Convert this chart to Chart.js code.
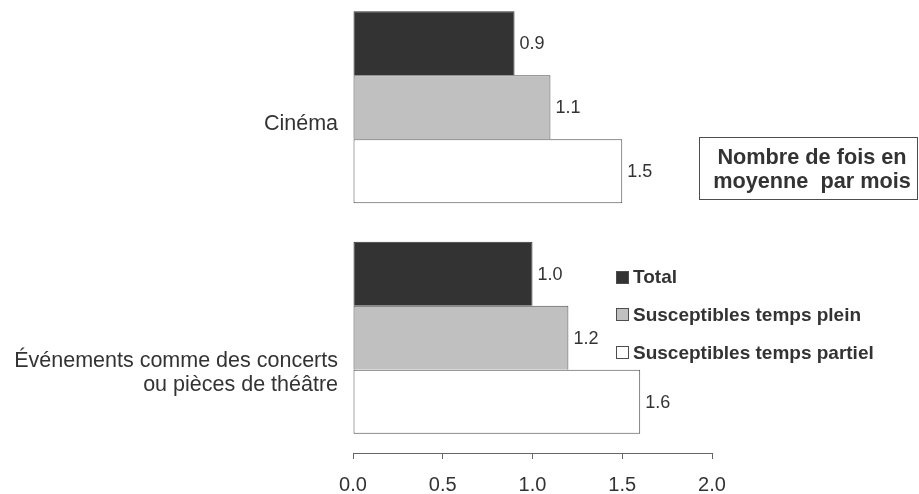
<!DOCTYPE html>
<html>
<head>
<meta charset="utf-8">
<script src="https://cdn.jsdelivr.net/npm/chart.js@4.4.1/dist/chart.umd.min.js"></script>
<style>
  html, body { margin: 0; padding: 0; background: #fff; overflow: hidden; }
  body { width: 919px; height: 494px; position: relative; }
  #chart { position: absolute; left: 0; top: -8px; }
</style>
</head>
<body>
<canvas id="chart" width="919" height="524"></canvas>
<script>
// categories, one entry per line of the label
const categories = [
    ['Cinéma'],
    ['Événements comme des concerts', 'ou pièces de théâtre']
];
const seriesNames = ['Total', 'Susceptibles temps plein', 'Susceptibles temps partiel'];
const totalValues = [0.9, 1.0];
const pleinValues = [1.1, 1.2];
const partielValues = [1.5, 1.6];
const xTicks = [0, 0.5, 1.0, 1.5, 2.0];
const noteLines = ['Nombre de fois en', 'moyenne  par mois'];

const FONT = "'Liberation Sans', Arial, sans-serif";
const TEXT = '#333333';
const EDGE = '#4d4d4d';
const fills = ['#333333', '#c0c0c0', '#ffffff'];
const TOP = 8; // canvas sits 8px above the page

// Labels for the categories, a little below the centre of each group
const labelShift = [17, 35];
const categoryLabels = {
    id: 'categoryLabels',
    afterDraw(chart) {
        const ctx = chart.ctx;
        const y = chart.scales.y;
        ctx.save();
        ctx.font = '21.5px ' + FONT;
        ctx.fillStyle = TEXT;
        ctx.textAlign = 'right';
        ctx.textBaseline = 'middle';
        categories.forEach((lines, i) => {
            const mid = y.getPixelForValue(i) + labelShift[i];
            const start = mid - (lines.length - 1) * 12;
            lines.forEach((line, j) => ctx.fillText(line, chart.chartArea.left - 15, start + j * 24));
        });
        ctx.restore();
    }
};

// Value next to the end of each bar
const valueLabels = {
    id: 'valueLabels',
    afterDatasetsDraw(chart) {
        const ctx = chart.ctx;
        ctx.save();
        ctx.font = '18px ' + FONT;
        ctx.fillStyle = TEXT;
        ctx.textAlign = 'left';
        ctx.textBaseline = 'middle';
        chart.data.datasets.forEach((ds, di) => {
            chart.getDatasetMeta(di).data.forEach((bar, i) => {
                ctx.fillText(ds.data[i].toFixed(1), bar.x + 5, bar.y + 1);
            });
        });
        ctx.restore();
    }
};

// Legend and the boxed note on the right
const sideNotes = {
    id: 'sideNotes',
    afterDraw(chart) {
        const ctx = chart.ctx;
        ctx.save();
        // note box
        ctx.strokeStyle = EDGE;
        ctx.lineWidth = 1;
        ctx.strokeRect(699.5, 137.5 + TOP, 218, 62);
        ctx.font = 'bold 21.7px ' + FONT;
        ctx.fillStyle = TEXT;
        ctx.textAlign = 'center';
        ctx.textBaseline = 'middle';
        noteLines.forEach((line, j) => ctx.fillText(line, 812, 158 + TOP + j * 24));
        // legend
        ctx.font = 'bold 19px ' + FONT;
        ctx.textAlign = 'left';
        seriesNames.forEach((name, i) => {
            const cy = 277 + TOP + i * 37.7;
            ctx.fillStyle = fills[i];
            ctx.fillRect(616, Math.round(cy - 6.5), 13, 13);
            ctx.strokeStyle = EDGE;
            ctx.strokeRect(616.5, Math.round(cy - 6.5) + 0.5, 12, 12);
            ctx.fillStyle = TEXT;
            ctx.fillText(name, 633, cy + 1);
        });
        ctx.restore();
    }
};

const seriesValues = [totalValues, pleinValues, partielValues];
const datasets = seriesNames.map((name, i) => ({
    label: name,
    data: seriesValues[i],
    backgroundColor: fills[i],
    borderColor: i === 0 ? '#333333' : EDGE,
    borderWidth: i === 2 ? 1 : { top: 1, left: 1, right: 1, bottom: 0 },
    borderSkipped: false,
    categoryPercentage: 0.834,
    barPercentage: 1.0
}));

new Chart(document.getElementById('chart').getContext('2d'), {
    type: 'bar',
    data: {
        labels: categories.map(lines => lines.join(' ')),
        datasets: datasets
    },
    options: {
        indexAxis: 'y',
        responsive: false,
        animation: false,
        layout: {
            padding: { left: 353, right: 207, top: 0, bottom: 5 }
        },
        scales: {
            y: {
                display: false,
                offset: true
            },
            x: {
                min: 0,
                max: 2,
                afterBuildTicks(axis) {
                    axis.ticks = xTicks.map(v => ({ value: v }));
                },
                ticks: {
                    color: TEXT,
                    font: { family: FONT, size: 20 },
                    padding: 14,
                    maxRotation: 0,
                    callback: v => Number(v).toFixed(1)
                },
                grid: {
                    drawOnChartArea: false,
                    drawTicks: true,
                    tickLength: 6,
                    color: '#666666'
                },
                border: {
                    display: true,
                    color: '#666666'
                }
            }
        },
        plugins: {
            legend: { display: false },
            tooltip: { enabled: false }
        }
    },
    plugins: [categoryLabels, valueLabels, sideNotes]
});
</script>
</body>
</html>
